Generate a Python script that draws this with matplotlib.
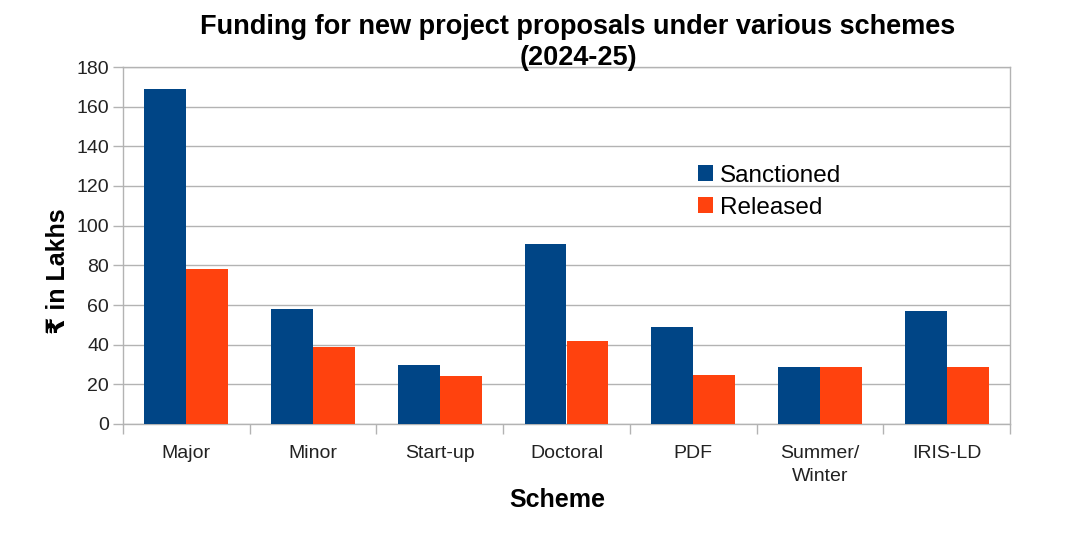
import numpy as np
import matplotlib
matplotlib.use("Agg")
import matplotlib.pyplot as plt

plt.rcParams['font.family'] = ['Liberation Sans', 'DejaVu Sans']

schemes = ['Major', 'Minor', 'Start-up', 'Doctoral', 'PDF', 'Summer/\nWinter', 'IRIS-LD']
sanctioned = [169, 58, 30, 91, 49, 28.5, 57]
released = [78, 39, 24, 42, 24.5, 28.5, 28.5]

blue = '#004586'
orange = '#ff420e'
grey = '#b3b3b3'

fig = plt.figure(figsize=(10.9, 5.52), dpi=100)
ax = fig.add_axes([123 / 1090, 1 - 424 / 552, 887 / 1090, 357 / 552])

x = np.arange(len(schemes))
w = 0.331
ax.bar(x - w / 2, sanctioned, w, color=blue, label='Sanctioned', zorder=3)
ax.bar(x + w / 2, released, w, color=orange, label='Released', zorder=3)

ax.set_xlim(-0.5, len(schemes) - 0.5)
ax.set_ylim(0, 180)
ax.set_yticks(range(0, 181, 20))
ax.yaxis.grid(True, color=grey, linewidth=1.0, zorder=0)
ax.set_axisbelow(True)

# ticks at the category edges, labels in the middle
ax.set_xticks(np.arange(-0.5, len(schemes), 1.0))
ax.set_xticklabels([])
ax.set_xticks(x, minor=True)
ax.set_xticklabels(schemes, minor=True, fontsize=14, color='#222222')
for t in ax.get_xticklabels(minor=True):
    t.set_linespacing(1.45)
ax.tick_params(axis='x', which='major', length=7, color=grey, width=1)
ax.tick_params(axis='x', which='minor', length=0, pad=15)
ax.tick_params(axis='y', length=7, color=grey, width=1, pad=3, labelsize=14, labelcolor='#222222')

for s in ax.spines.values():
    s.set_color(grey)
    s.set_linewidth(1.0)

leg = ax.legend(loc='upper left', bbox_to_anchor=(0.648, 0.726), frameon=False,
                fontsize=17.5, handlelength=0.62, handleheight=0.62,
                handletextpad=0.3, labelspacing=0.4, borderpad=0, borderaxespad=0)

fig.text(578 / 1090, 1 - 27 / 552, 'Funding for new project proposals under various schemes',
         ha='center', va='center', fontsize=19.5, fontweight='bold')
fig.text(578 / 1090, 1 - 58 / 552, '(2024-25)',
         ha='center', va='center', fontsize=19.5, fontweight='bold')
fig.text(58 / 1090, 1 - 271 / 552, '₹ in Lakhs', rotation=90, ha='center', va='center',
         fontsize=18, fontweight='bold')
fig.text(557 / 1090, 1 - 500 / 552, 'Scheme', ha='center', va='center',
         fontsize=18, fontweight='bold')

fig.savefig('out.png', dpi=100)
